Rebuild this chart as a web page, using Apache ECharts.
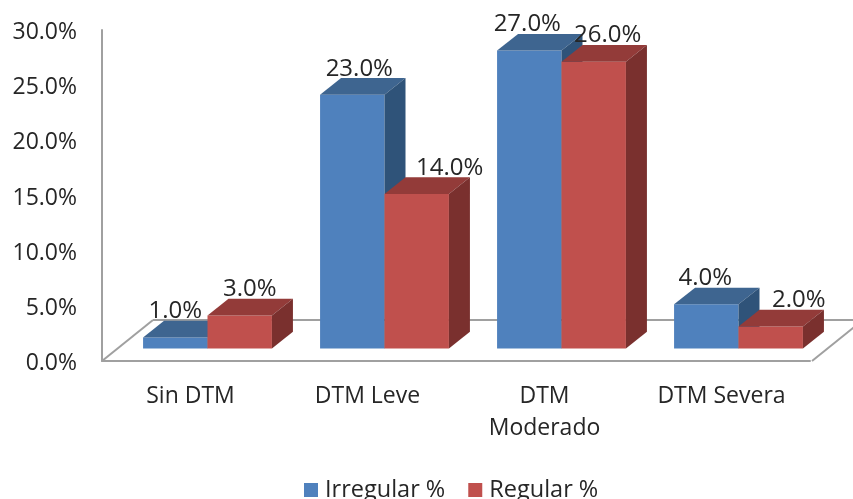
<!DOCTYPE html>
<html>
<head>
<meta charset="utf-8">
<style>html,body{margin:0;padding:0;background:#fff}#chart{width:853px;height:499px}</style>
<script src="https://cdn.jsdelivr.net/npm/echarts@6/dist/echarts.min.js"></script>
</head>
<body>
<div id="chart"></div>
<script>
// Temporomandibular disorder severity by menstrual regularity
const categories = ['Sin DTM', 'DTM Leve', 'DTM\nModerado', 'DTM Severa'];
const irregular = [1, 23, 27, 4];
const regular = [3, 14, 26, 2];
const yTicks = { min: 0, max: 30, interval: 5 };

// Sideways nudge of each value label, per series
const irregularLabelShift = [0, 7, -2, -1];
const regularLabelShift = [10, 33, 14, 28];

const FONT = '"Open Sans", sans-serif';
const TEXT = '#262626';
const AXIS = '#A0A0A0';
const DEPTH = { x: 21, y: -16.7 };        // receding edge of a bar
const LIFT = { x: 17, y: -12.5 };         // bars stand inside the floor
const FLOOR = { x: 51, y: -41 };          // receding edge of the floor

const palette = {
  blue: { front: '#4F81BD', top: '#3E6590', side: '#2F5379' },
  red: { front: '#C0504D', top: '#933B39', side: '#7A302E' }
};

function poly(points, fill) {
  return { type: 'polygon', shape: { points }, style: { fill } };
}

// One 3D block: front face, top face and right side, projected from the value scale.
function barRenderer(colors, side, shifts) {
  return function (params, api) {
    const cat = api.value(0);
    const band = api.size([1, 0])[0];
    const w = band * 0.364;
    const base = api.coord([cat, 0]);
    const head = api.coord([cat, api.value(1)]);
    const x0 = base[0] + LIFT.x + (side < 0 ? -w : 0);
    const x1 = x0 + w;
    const yb = base[1] + LIFT.y;
    const yt = head[1] + LIFT.y;
    const dx = DEPTH.x, dy = DEPTH.y;
    return {
      type: 'group',
      children: [
        poly([[x0, yb], [x1, yb], [x1, yt], [x0, yt]], colors.front),
        poly([[x0, yt], [x1, yt], [x1 + dx, yt + dy], [x0 + dx, yt + dy]], colors.top),
        poly([[x1, yb], [x1 + dx, yb + dy], [x1 + dx, yt + dy], [x1, yt]], colors.side),
        {
          type: 'text',
          z2: 100,
          style: {
            x: (x0 + x1) / 2 + shifts[cat],
            y: yt - 26,
            text: api.value(1).toFixed(1) + '%',
            fill: TEXT,
            font: '24px ' + FONT,
            textAlign: 'center',
            textVerticalAlign: 'middle'
          }
        }
      ]
    };
  };
}

// Floor outline behind the bars: left diagonal, back edge and right diagonal.
function floorRenderer(params, api) {
  const cs = params.coordSys;
  const bottom = cs.y + cs.height;
  const left = cs.x;
  const right = cs.x + cs.width + 2;
  const line = (a, b) => ({
    type: 'line',
    shape: { x1: a[0], y1: a[1], x2: b[0], y2: b[1] },
    style: { stroke: AXIS, lineWidth: 2 }
  });
  return {
    type: 'group',
    children: [
      line([left, bottom], [left + FLOOR.x, bottom + FLOOR.y]),
      line([left + FLOOR.x, bottom + FLOOR.y], [right + FLOOR.x, bottom + FLOOR.y]),
      line([right, bottom], [right + FLOOR.x, bottom + FLOOR.y])
    ]
  };
}

const chart = echarts.init(document.getElementById('chart'));
chart.setOption({
  animation: false,
  backgroundColor: '#fff',
  textStyle: { fontFamily: FONT },
  grid: { left: 102, top: 30, width: 708, height: 331 },
  legend: {
    data: ['Irregular %', 'Regular %'],
    left: 304,
    top: 478,
    padding: 0,
    icon: 'rect',
    itemWidth: 14,
    itemHeight: 14,
    itemGap: 23,
    textStyle: { fontFamily: FONT, fontSize: 23.5, color: TEXT, padding: [0, 0, 0, 2] }
  },
  xAxis: {
    type: 'category',
    data: categories,
    axisLine: { lineStyle: { color: AXIS, width: 2 } },
    axisTick: { show: false },
    axisLabel: { color: TEXT, fontFamily: FONT, fontSize: 23, lineHeight: 32, margin: 19 }
  },
  yAxis: {
    type: 'value',
    min: yTicks.min,
    max: yTicks.max,
    interval: yTicks.interval,
    splitLine: { show: false },
    axisLine: { show: true, lineStyle: { color: AXIS, width: 2 } },
    axisTick: { show: false },
    axisLabel: {
      color: TEXT,
      fontFamily: FONT,
      fontSize: 23,
      margin: 25,
      verticalAlign: 'top',
      lineHeight: 5,
      formatter: v => v.toFixed(1) + '%'
    }
  },
  series: [
    {
      name: 'floor',
      type: 'custom',
      clip: false,
      silent: true,
      renderItem: floorRenderer,
      data: [[0, 0]],
      z: 1
    },
    {
      name: 'Irregular %',
      type: 'custom',
      clip: false,
      itemStyle: { color: palette.blue.front },
      renderItem: barRenderer(palette.blue, -1, irregularLabelShift),
      encode: { x: 0, y: 1 },
      data: irregular.map((v, i) => [i, v]),
      z: 2
    },
    {
      name: 'Regular %',
      type: 'custom',
      clip: false,
      itemStyle: { color: palette.red.front },
      renderItem: barRenderer(palette.red, 1, regularLabelShift),
      encode: { x: 0, y: 1 },
      data: regular.map((v, i) => [i, v]),
      z: 3
    }
  ]
});
</script>
</body>
</html>
